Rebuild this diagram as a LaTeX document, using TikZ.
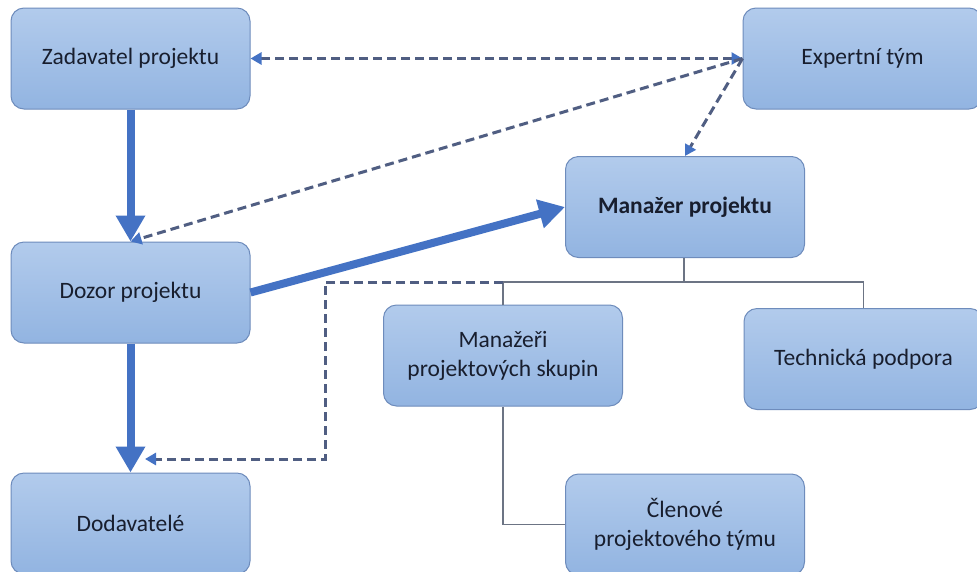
\documentclass[tikz,border=0pt]{standalone}
\usepackage{fontspec}
\setmainfont{Carlito}
\usetikzlibrary{arrows.meta}
\definecolor{boxtop}{RGB}{178,203,236}
\definecolor{boxbot}{RGB}{146,180,225}
\definecolor{boxline}{RGB}{110,140,188}
\definecolor{txt}{RGB}{24,30,46}
\definecolor{flow}{RGB}{68,114,196}
\definecolor{dashgrey}{RGB}{80,94,130}
\definecolor{orggrey}{RGB}{108,116,132}
\begin{document}
\begin{tikzpicture}[x=1pt,y=-1pt,
  block/.style={draw=boxline, line width=1pt, rounded corners=13pt,
    top color=boxtop, bottom color=boxbot,
    minimum width=239pt, minimum height=101pt, inner sep=0pt,
    text=txt, align=center, font=\fontsize{23.5}{29}\selectfont},
  mainflow/.style={draw=flow, line width=8pt,
    -{Triangle[width=28pt,length=26pt,color=flow,fill=flow]}},
  linkflow/.style={draw=dashgrey, line width=3pt, dash pattern=on 9pt off 5pt,
    -{Triangle[width=12pt,length=11pt,color=flow,fill=flow]}},
  bothflow/.style={linkflow,
    {Triangle[width=12pt,length=11pt,color=flow,fill=flow]}-{Triangle[width=12pt,length=11pt,color=flow,fill=flow]}},
  orgline/.style={draw=orggrey, line width=1.5pt}]

\useasboundingbox[fill=white] (0,0) rectangle (977,571);

% boxes
\node[block] (zad)   at (130.5,58.5)  {Zadavatel projektu};
\node[block] (dozor) at (130.5,292.5) {Dozor projektu};
\node[block] (dod)   at (130.5,523.5) {Dodavatelé};
\node[block] (exp)   at (862.5,58.5)  {Expertní tým};
\node[block, font=\fontsize{23.5}{29}\selectfont\bfseries] (man) at (685,207) {Manažer projektu};
\node[block] (mps)   at (503,355.5)   {Manažeři\\projektových skupin};
\node[block] (tech)  at (863.5,359)   {Technická podpora};
\node[block] (clen)  at (685,524.5)   {Členové\\projektového týmu};

% organisational tree below the project manager
\coordinate (bus)  at (684,282);
\coordinate (busL) at (mps.north |- bus);
\draw[orgline] (man.south -| bus) -- (bus) -| (tech.north);
\draw[orgline] (bus) -| (mps.north);
\draw[orgline] (mps.south) |- (clen.west);

% main line of command
\draw[mainflow] (zad.south) -- (dozor.north);
\draw[mainflow] (dozor.south) -- (dod.north);
\draw[mainflow] (dozor.east) -- (man.west);

% advisory and reporting links
\coordinate (dturn) at (325,282);
\coordinate (dend)  at (145,459);
\draw[linkflow] (busL) -- (dturn) |- (dend);
\draw[bothflow] (exp.west) -- (zad.east);
\draw[linkflow] (exp.west) -- (dozor.north);
\draw[linkflow] (exp.west) -- (man.north);
\end{tikzpicture}
\end{document}
